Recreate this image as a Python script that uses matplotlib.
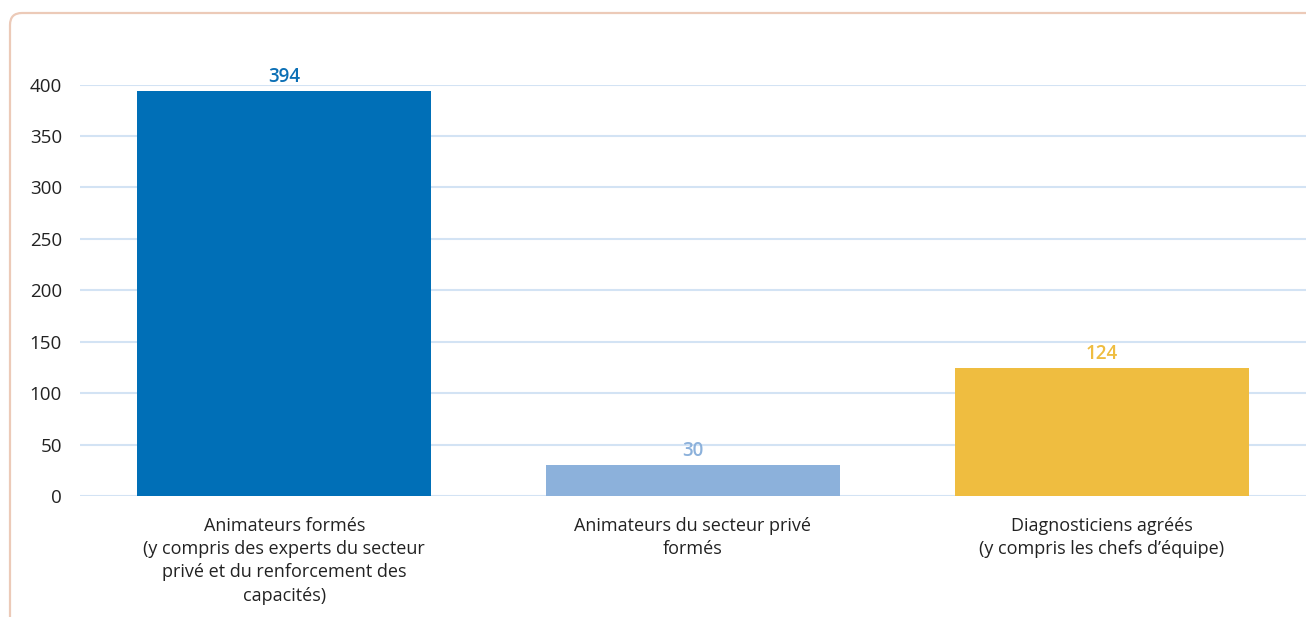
import matplotlib
matplotlib.use("Agg")
import matplotlib.pyplot as plt
from matplotlib.patches import FancyBboxPatch

categories = [
    "Animateurs formés\n(y compris des experts du secteur\nprivé et du renforcement des\ncapacités)",
    "Animateurs du secteur privé\nformés",
    "Diagnosticiens agréés\n(y compris les chefs d\u2019équipe)",
]
values = [394, 30, 124]
bar_colors = ["#006fb7", "#8cb1db", "#efbd40"]
label_colors = ["#0b6fb5", "#8cb1db", "#efbd40"]
yticks = [0, 50, 100, 150, 200, 250, 300, 350, 400]

plt.rcParams["font.family"] = ["Open Sans", "DejaVu Sans"]

W, H = 1306, 617
fig = plt.figure(figsize=(W / 100, H / 100), dpi=100)
fig.patch.set_facecolor("white")

# rounded frame, cut off at right and bottom
frame = FancyBboxPatch((10, -40), 1400, 644, boxstyle="round,pad=0,rounding_size=12",
                       transform=None, facecolor="none", edgecolor="#eccab8",
                       linewidth=1.6, zorder=0)
fig.patches.append(frame)

ax = fig.add_axes([80 / W, 1 - 496 / H, (1306 - 80) / W, (496 - 84.5) / H])
ax.set_facecolor("none")

x = range(len(categories))
ax.bar(x, values, width=0.72, color=bar_colors, zorder=3)

for i, v in enumerate(values):
    ax.annotate(str(v), (i, v), textcoords="offset points", xytext=(0, 3),
                ha="center", va="bottom", fontsize=13.5, fontweight="semibold",
                color=label_colors[i], annotation_clip=False)

ax.set_xlim(-0.5, 2.5)
ax.set_ylim(0, 400)
ax.set_yticks(yticks)
ax.set_yticklabels([str(t) for t in yticks], fontsize=13.5, color="#222222")
ax.set_xticks(list(x))
ax.set_xticklabels(categories, fontsize=13, color="#222222", linespacing=1.38,
                   va="top")
ax.tick_params(axis="both", length=0)
ax.tick_params(axis="y", pad=13)
ax.tick_params(axis="x", pad=15)

ax.grid(axis="y", color="#d3e3f4", linewidth=1.5, zorder=0)
for s in ax.spines.values():
    s.set_visible(False)

fig.savefig("out.png", dpi=100)
